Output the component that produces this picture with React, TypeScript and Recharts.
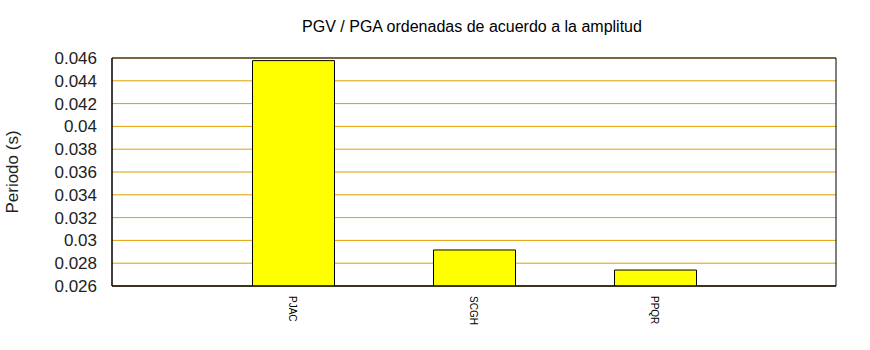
import { BarChart, Bar, XAxis, YAxis, CartesianGrid, ReferenceArea } from "recharts";

const stations = ["PJAC", "SCGH", "PPQR"];
const positions = [1, 2, 3];
const periods = [0.04577, 0.02916, 0.0274];
const yTicks = [0.026, 0.028, 0.03, 0.032, 0.034, 0.036, 0.038, 0.04, 0.042, 0.044, 0.046];

const data = stations.map((name, i) => ({ name, pos: positions[i], value: periods[i] }));

const font = "'Liberation Sans', Arial, sans-serif";

const XTick = (props: any) => {
  const { x, y, payload } = props;
  const label = stations[positions.indexOf(payload.value)] ?? "";
  return (
    <text
      x={0}
      y={0}
      transform={`translate(${x - 4},${y}) rotate(90)`}
      fontSize={10}
      fontFamily={font}
      fill="#000"
      textAnchor="start"
    >
      {label}
    </text>
  );
};

export default function App() {
  return (
    <div style={{ position: "absolute", left: 0, top: 0, background: "#fff" }}>
      <div style={{ position: "relative", width: 870, height: 350 }}>
        <div
          style={{
            position: "absolute",
            top: 17,
            left: 0,
            width: 944,
            textAlign: "center",
            fontFamily: font,
            fontSize: 16,
            lineHeight: "20px",
            color: "#000",
          }}
        >
          PGV / PGA ordenadas de acuerdo a la amplitud
        </div>
        <div
          style={{
            position: "absolute",
            left: 13,
            top: 172,
            transform: "translate(-50%, -50%) rotate(-90deg)",
            fontFamily: font,
            fontSize: 17,
            color: "#222",
            whiteSpace: "nowrap",
          }}
        >
          Periodo (s)
        </div>
        <BarChart
          width={870}
          height={350}
          data={data}
          margin={{ top: 58, right: 34, bottom: 34, left: 52 }}
        >
          <CartesianGrid horizontal vertical={false} stroke="#e0a000" strokeWidth={1} />
          <XAxis
            dataKey="pos"
            type="number"
            domain={[0, 4]}
            ticks={positions}
            height={30}
            axisLine={{ stroke: "#000" }}
            tickLine={false}
            tickSize={0}
            tickMargin={10}
            tick={<XTick />}
            interval={0}
          />
          <YAxis
            domain={[0.026, 0.046]}
            ticks={yTicks}
            allowDataOverflow
            width={60}
            axisLine={{ stroke: "#000" }}
            tickLine={false}
            tickSize={0}
            tickMargin={15}
            tick={{ fontSize: 17, fontFamily: font, fill: "#222" }}
            interval={0}
          />
          <Bar
            dataKey="value"
            fill="#ffff00"
            stroke="#000"
            strokeWidth={1}
            barSize={82}
            isAnimationActive={false}
          />
          <ReferenceArea x1={0} x2={4} y1={0.026} y2={0.046} fill="none" stroke="#000" strokeWidth={1} ifOverflow="extendDomain" />
        </BarChart>
      </div>
    </div>
  );
}
